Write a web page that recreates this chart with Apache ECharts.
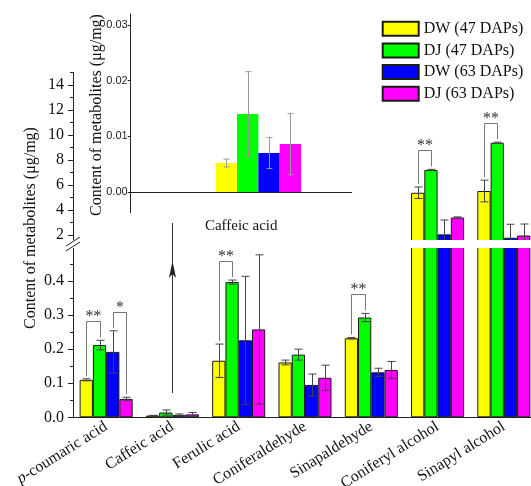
<!DOCTYPE html>
<html><head><meta charset="utf-8">
<script src="https://cdn.jsdelivr.net/npm/echarts@6/dist/echarts.min.js"></script>
<style>html,body{margin:0;padding:0;background:#fff}#c{width:531px;height:486px}</style>
</head><body><div id="c"></div>
<script>
// ---------------- data ----------------
const categories = ['p-coumaric acid','Caffeic acid','Ferulic acid','Coniferaldehyde','Sinapaldehyde','Coniferyl alcohol','Sinapyl alcohol'];
const seriesNames = ['DW (47 DAPs)','DJ (47 DAPs)','DW (63 DAPs)','DJ (63 DAPs)'];
const dw47    = [0.110, 0.0052, 0.166, 0.161, 0.232, 5.38, 5.52];
const dw47Err = [0.003, 0.0007, 0.049, 0.007, 0.002, 0.46, 0.87];
const dj47    = [0.212, 0.0140, 0.397, 0.184, 0.293, 7.20, 9.38];
const dj47Err = [0.014, 0.0076, 0.006, 0.016, 0.012, 0.05, 0.05];
const dw63    = [0.192, 0.0070, 0.226, 0.095, 0.132, 2.05, 1.78];
const dw63Err = [0.062, 0.0028, 0.188, 0.032, 0.012, 1.15, 1.08];
const dj63    = [0.054, 0.0086, 0.258, 0.116, 0.139, 3.40, 1.96];
const dj63Err = [0.005, 0.0055, 0.219, 0.037, 0.025, 0.05, 0.92];
const insetCategory = ['Caffeic acid'];
const lowerTicks = [0, 0.1, 0.2, 0.3, 0.4];
const upperTicks = [2, 4, 6, 8, 10, 12, 14];
const upperMinorTicks = [3, 5, 7, 9, 11, 13, 15];
const insetTicks = [0, 0.01, 0.02, 0.03];
const sigCategory = ['p-coumaric acid','p-coumaric acid','Ferulic acid','Sinapaldehyde','Coniferyl alcohol','Sinapyl alcohol'];
const sigLeft  = [0, 2, 0, 0, 0, 0];
const sigRight = [1, 3, 1, 1, 1, 1];
const sigMark  = ['**', '*', '**', '**', '**', '**'];
const yName = 'Content of metabolites (μg/mg)';

// ---------------- style / layout ----------------
const colors = ['#ffff00', '#00ff00', '#0000ff', '#ff00ff'];
const SERIF = 'Liberation Serif';
const SANS = 'Liberation Sans';
const values = [dw47, dj47, dw63, dj63];
const errors = [dw47Err, dj47Err, dw63Err, dj63Err];

const PL = 73, PW = 464;            // main plot left / width
const LOW_TOP = 247, LOW_BOT = 417.3;
const UP_TOP = 72.5, UP_BOT = 241;
const LOW_MAX = 0.5, UP_MAX = 15;
const UP_MIN = UP_MAX - (UP_BOT - UP_TOP) / 12.5;
const IN_L = 130.7, IN_W = 221, IN_T = 14, IN_B = 212.7;
const IN_PX = 5570;                 // inset px per unit
const IN_MIN = -(IN_B - 192) / IN_PX, IN_MAX = (192 - IN_T) / IN_PX;
const IN_BAR_L = 165, IN_BAR_W = 186.7, IN_BARW = 21.33;
const inGap = 1 - 4 * IN_BARW / IN_BAR_W;
const mainGap = 0.2;

function errRender(j, gap, capW, color) {
  return function (params, api) {
    const i = api.value(0), v = api.value(1), e = api.value(2);
    const band = api.size([1, 0])[0];
    const bw = band * (1 - gap) / 4;
    const cx = Math.round(api.coord([i, v])[0] + (j - 1.5) * bw) + 0.5;
    const yt = api.coord([i, v + e])[1], yb = api.coord([i, v - e])[1];
    const st = { stroke: color, lineWidth: 1 };
    return { type: 'group', children: [
      { type: 'line', shape: { x1: cx, y1: yt, x2: cx, y2: yb }, style: st },
      { type: 'line', shape: { x1: cx - capW / 2, y1: yt, x2: cx + capW / 2, y2: yt }, style: st },
      { type: 'line', shape: { x1: cx - capW / 2, y1: yb, x2: cx + capW / 2, y2: yb }, style: st }
    ]};
  };
}

function sigRender(params, api) {
  const i = api.value(0), a = api.value(1), b = api.value(2);
  const ta = api.value(3), tb = api.value(4);
  const band = api.size([1, 0])[0];
  const bw = band * (1 - mainGap) / 4;
  const c = api.coord([i, 0])[0];
  const xa = Math.round(c + (a - 1.5) * bw) + 0.5, xb = Math.round(c + (b - 1.5) * bw) + 0.5;
  const ya = api.coord([i, ta])[1] - 3, yb = api.coord([i, tb])[1] - 3;
  const level = Math.round(Math.min(ya, yb) - 16) + 0.5;
  const st = { stroke: '#777', lineWidth: 1, fill: null };
  return { type: 'group', children: [
    { type: 'polyline', shape: { points: [[xa, ya], [xa, level], [xb, level], [xb, yb]] }, style: st },
    { type: 'text', style: { text: api.value(5), x: (xa + xb) / 2, y: level - 13,
      align: 'center', verticalAlign: 'top', fontSize: 16, fontFamily: SERIF, fill: '#333' } }
  ]};
}

const series = [];
[0, 1].forEach(g => {
  for (let j = 0; j < 4; j++) {
    series.push({
      type: 'bar', name: seriesNames[j], xAxisIndex: g, yAxisIndex: g === 0 ? 0 : 1,
      data: values[j], barGap: 0, barCategoryGap: (mainGap * 100) + '%', clip: true,
      itemStyle: { color: colors[j], borderColor: '#1a1a1a', borderWidth: 1 },
      emphasis: { disabled: true }, z: 2
    });
  }
});
[0, 1].forEach(g => {
  for (let j = 0; j < 4; j++) {
    series.push({
      type: 'custom', xAxisIndex: g, yAxisIndex: g === 0 ? 0 : 1, clip: true, z: 3,
      renderItem: errRender(j, mainGap, 8, '#444'),
      encode: { x: 0, y: 1 },
      data: categories.map((c, i) => [i, values[j][i], errors[j][i]])
    });
  }
});
const sigLow = [], sigUp = [];
sigCategory.forEach((c, k) => {
  const i = categories.indexOf(c);
  const ta = values[sigLeft[k]][i] + errors[sigLeft[k]][i];
  const tb = values[sigRight[k]][i] + errors[sigRight[k]][i];
  const item = [i, sigLeft[k], sigRight[k], ta, tb, sigMark[k]];
  (Math.max(ta, tb) > LOW_MAX ? sigUp : sigLow).push(item);
});
series.push({ type: 'custom', xAxisIndex: 0, yAxisIndex: 0, z: 4, renderItem: sigRender,
  encode: { x: 0, y: 3 }, dimensions: ['c','a','b','ta','tb',{name:'m', type:'ordinal'}], data: sigLow });
series.push({ type: 'custom', xAxisIndex: 1, yAxisIndex: 1, z: 4, renderItem: sigRender,
  encode: { x: 0, y: 3 }, dimensions: ['c','a','b','ta','tb',{name:'m', type:'ordinal'}], data: sigUp });
const ci = categories.indexOf('Caffeic acid');
for (let j = 0; j < 4; j++) {
  series.push({
    type: 'bar', name: seriesNames[j], xAxisIndex: 2, yAxisIndex: 3,
    data: [values[j][ci]], barGap: 0, barCategoryGap: (inGap * 100) + '%',
    itemStyle: { color: colors[j] }, emphasis: { disabled: true }, z: 2
  });
  series.push({
    type: 'custom', xAxisIndex: 2, yAxisIndex: 3, z: 3,
    renderItem: errRender(j, inGap, 6, '#999'), encode: { x: 0, y: 1 },
    data: [[0, values[j][ci], errors[j][ci]]]
  });
}

const axisLineStyle = { lineStyle: { color: '#222', width: 1 } };
const catLabel = {
  rotate: 32, fontSize: 16, fontFamily: SERIF, color: '#111', margin: 8, interval: 0,
  formatter: v => v.indexOf('p-') === 0 ? '{i|p}' + v.slice(1) : v,
  rich: { i: { fontStyle: 'italic', fontSize: 16, fontFamily: SERIF, color: '#111' } }
};
const gridBase = { containLabel: false, outerBoundsMode: 'none' };

const option = {
  animation: false,
  backgroundColor: '#fff',
  textStyle: { fontFamily: SERIF },
  legend: {
    data: seriesNames, orient: 'vertical', left: 381.7, top: 20.7, icon: 'rect',
    itemWidth: 36, itemHeight: 14, itemGap: 5.7, padding: 0, selectedMode: false,
    textStyle: { fontFamily: SERIF, fontSize: 16, color: '#111' }
  },
  grid: [
    Object.assign({ left: PL, width: PW, top: LOW_TOP, height: LOW_BOT - LOW_TOP }, gridBase),
    Object.assign({ left: PL, width: PW, top: UP_TOP, height: UP_BOT - UP_TOP }, gridBase),
    Object.assign({ left: IN_BAR_L, width: IN_BAR_W, top: IN_T, height: IN_B - IN_T }, gridBase),
    Object.assign({ left: IN_L, width: IN_W, top: IN_T, height: IN_B - IN_T }, gridBase)
  ],
  xAxis: [
    { type: 'category', gridIndex: 0, data: categories, axisLine: axisLineStyle,
      axisTick: { show: false }, axisLabel: catLabel },
    { type: 'category', gridIndex: 1, data: categories, show: false },
    { type: 'category', gridIndex: 2, data: insetCategory, show: false },
    { type: 'category', gridIndex: 3, data: insetCategory, axisLine: axisLineStyle,
      axisTick: { show: false },
      axisLabel: { fontSize: 15, fontFamily: SERIF, color: '#111', margin: 6 } }
  ],
  yAxis: [
    { type: 'value', gridIndex: 0, min: 0, max: LOW_MAX, interval: 0.1,
      axisLine: { show: true, lineStyle: { color: '#222' } },
      axisTick: { show: true, length: 5, customValues: lowerTicks, lineStyle: { color: '#222' } },
      minorTick: { show: true, splitNumber: 2, length: 3, lineStyle: { color: '#222' } },
      axisLabel: { customValues: lowerTicks, formatter: v => v.toFixed(1), fontSize: 16, fontFamily: SERIF, color: '#111', margin: 9 },
      splitLine: { show: false } },
    { type: 'value', gridIndex: 1, min: UP_MIN, max: UP_MAX, position: 'left',
      axisLine: { show: true, lineStyle: { color: '#222' } },
      axisTick: { show: true, length: 5, customValues: upperTicks, lineStyle: { color: '#222' } },
      axisLabel: { customValues: upperTicks, formatter: v => String(v), fontSize: 16, fontFamily: SERIF, color: '#111', margin: 9 },
      splitLine: { show: false } },
    { type: 'value', gridIndex: 1, min: UP_MIN, max: UP_MAX, position: 'left', offset: 0,
      axisLine: { show: false },
      axisTick: { show: true, length: 3, customValues: upperMinorTicks, lineStyle: { color: '#222' } },
      axisLabel: { show: false }, splitLine: { show: false } },
    { type: 'value', gridIndex: 2, min: IN_MIN, max: IN_MAX, show: false, splitLine: { show: false } },
    { type: 'value', gridIndex: 3, min: IN_MIN, max: IN_MAX,
      axisLine: { show: true, lineStyle: { color: '#222' } },
      axisTick: { show: true, length: 3, customValues: insetTicks, lineStyle: { color: '#222' } },
      axisLabel: { customValues: insetTicks, formatter: v => v.toFixed(2), fontSize: 11, fontFamily: SANS, color: '#222', margin: 3 },
      splitLine: { show: false } }
  ],
  series: series
};

const chart = echarts.init(document.getElementById('c'), null, { renderer: 'canvas' });
chart.setOption(option);

const ax = chart.convertToPixel({ xAxisIndex: 0 }, 'Caffeic acid');
const arrowX = Math.round(ax) + 0.5;
chart.setOption({
  graphic: [
    { type: 'rect', z: 100, shape: { x: 60, y: UP_BOT - 1, width: 480, height: LOW_TOP - UP_BOT + 2 }, style: { fill: '#fff' } },
    { type: 'line', z: 101, shape: { x1: PL - 7, y1: 246, x2: PL + 7, y2: 237 }, style: { stroke: '#222', lineWidth: 1 } },
    { type: 'line', z: 101, shape: { x1: PL - 7, y1: 251, x2: PL + 7, y2: 242 }, style: { stroke: '#222', lineWidth: 1 } },
    { type: 'text', z: 101, x: 31, y: 228, rotation: Math.PI / 2,
      style: { text: yName, fontSize: 16, fontFamily: SERIF, fill: '#111', align: 'center', verticalAlign: 'middle' } },
    { type: 'text', z: 101, x: 96.5, y: 115, rotation: Math.PI / 2,
      style: { text: yName, fontSize: 16, fontFamily: SERIF, fill: '#111', align: 'center', verticalAlign: 'middle' } },
    { type: 'line', z: 101, shape: { x1: arrowX, y1: 393, x2: arrowX, y2: 223 }, style: { stroke: '#333', lineWidth: 1 } },
    { type: 'polygon', z: 101, shape: { points: [[arrowX, 261], [arrowX - 3.5, 278], [arrowX, 274], [arrowX + 3.5, 278]] }, style: { fill: '#222' } }
  ]
});
</script>
</body></html>
